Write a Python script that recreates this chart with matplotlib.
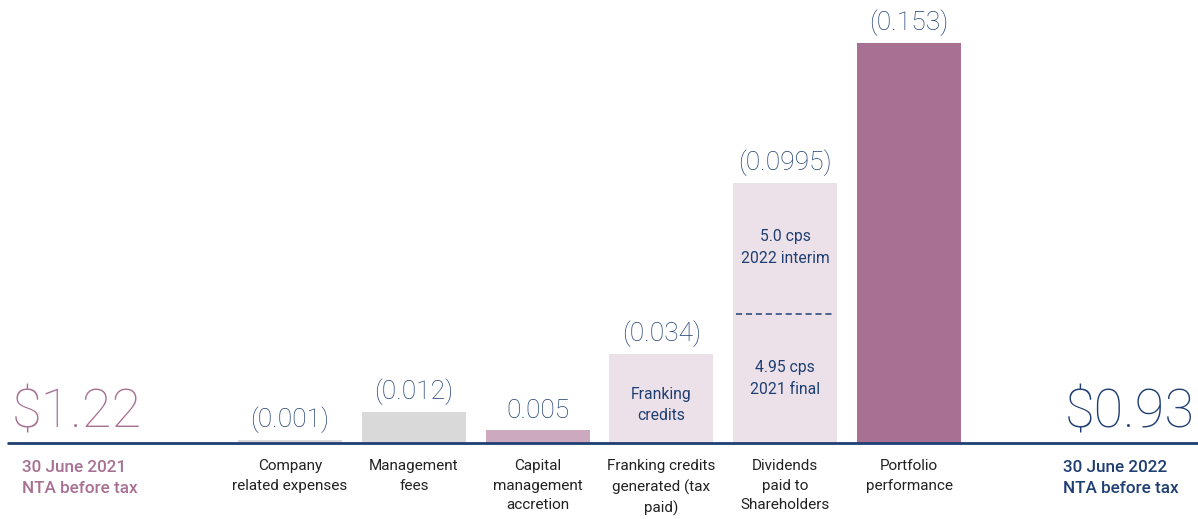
import matplotlib.pyplot as plt
import numpy as np

plt.rcParams['font.family'] = ['Roboto', 'DejaVu Sans']

categories = ['Company\nrelated expenses', 'Management\nfees', 'Capital\nmanagement\naccretion',
              'Franking credits\ngenerated (tax\npaid)', 'Dividends\npaid to\nShareholders',
              'Portfolio\nperformance']
values = [0.001, 0.012, 0.005, 0.034, 0.0995, 0.153]
value_labels = ['(0.001)', '(0.012)', '0.005', '(0.034)', '(0.0995)', '(0.153)']
dividend_split = 0.0495
start_nta = '$1.22'
end_nta = '$0.93'

navy = '#1F3F73'
pink = '#A87092'
bar_colors = ['#D9D9D9', '#D9D9D9', '#CCA9BE', '#EDE1E9', '#EDE1E9', pink]

fig = plt.figure(figsize=(11.98, 5.19), dpi=100)
ax = fig.add_axes([0, 0, 1, 1])
ax.set_xlim(-2.342, 7.334)
ax.set_ylim(-0.02907, 0.16947)
ax.axis('off')

x = np.arange(len(values))
bars = ax.bar(x, values, width=0.84, color=bar_colors, zorder=2)

# value labels above bars
for b, lab in zip(bars, value_labels):
    ax.annotate(lab, (b.get_x() + b.get_width() / 2, b.get_height()),
                xytext=(0, 5), textcoords='offset points', ha='center', va='bottom',
                fontsize=19, color=navy, fontweight='light')

# category labels
for xi, c in zip(x, categories):
    ax.text(xi, -0.0062, c, ha='center', va='top', fontsize=11, color='#222222',
            linespacing=1.5)

# baseline
ax.plot([-2.286, 7.334], [0, 0], color=navy, lw=2, zorder=3, solid_capstyle='butt')

# dividends split
d = bars[4]
ax.plot([d.get_x() + 0.02, d.get_x() + d.get_width() - 0.02], [dividend_split, dividend_split],
        color=navy, lw=1.1, ls=(0, (4, 2.5)), zorder=3)
ax.text(4, 0.0748, '5.0 cps\n2022 interim', ha='center', va='center', fontsize=11.3,
        color=navy, linespacing=1.55)
ax.text(4, 0.0247, '4.95 cps\n2021 final', ha='center', va='center', fontsize=11.3,
        color=navy, linespacing=1.55)
ax.text(3, 0.0145, 'Franking\ncredits', ha='center', va='center', fontsize=11.3,
        color=navy, linespacing=1.55)

# start / end NTA
ax.text(-2.245, 0.0058, start_nta, ha='left', va='baseline', fontsize=39, color=pink,
        fontweight='light')
ax.text(7.31, 0.0058, end_nta, ha='right', va='baseline', fontsize=39, color=navy,
        fontweight='light')
ax.text(-2.165, -0.0066, '30 June 2021\nNTA before tax', ha='left', va='top', fontsize=12.3,
        color=pink, fontweight='medium', linespacing=1.45)
ax.text(6.244, -0.0066, '30 June 2022\nNTA before tax', ha='left', va='top', fontsize=12.3,
        color=navy, fontweight='medium', linespacing=1.45)

fig.savefig('out.png', dpi=100)
